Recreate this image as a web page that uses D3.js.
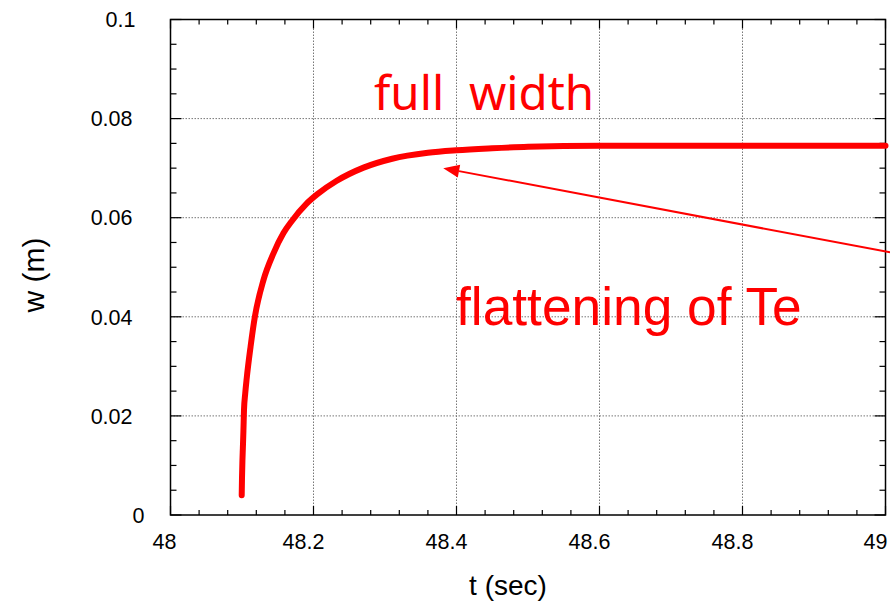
<!DOCTYPE html>
<html>
<head>
<meta charset="utf-8">
<script src="https://cdn.jsdelivr.net/npm/d3@7"></script>
<style>
  body { margin: 0; background: #fff; }
  text { font-family: "Liberation Sans", Arial, sans-serif; }
</style>
</head>
<body>
<div id="root"></div>
<script>
// DATA
const tSec = [48.0996, 48.1000, 48.1006, 48.1012, 48.1020, 48.1028, 48.1045, 48.1066, 48.112, 48.118,
  48.130, 48.144, 48.158, 48.170, 48.190, 48.205, 48.232, 48.270, 48.310, 48.360,
  48.400, 48.450, 48.500, 48.600, 48.700, 48.800, 48.900, 49.000];
const wM = [0.0040, 0.0075, 0.0110, 0.0135, 0.0170, 0.0212, 0.0245, 0.0276, 0.0340, 0.0400,
  0.0474, 0.0528, 0.0569, 0.0594, 0.0628, 0.0647, 0.0674, 0.0701, 0.0719, 0.0731,
  0.0736, 0.0740, 0.0743, 0.0745, 0.0745, 0.0745, 0.0745, 0.0745];
const xTicks = [48, 48.2, 48.4, 48.6, 48.8, 49];
const yTicks = [0, 0.02, 0.04, 0.06, 0.08, 0.1];
const arrowFrom = [49.0063, 0.0530];
const arrowTo = [48.3815, 0.0700];

// DIMENSIONS
const width = 890, height = 603;
const margin = {top: 19.5, right: 4.5, bottom: 88, left: 170.5};
const w = width - margin.left - margin.right;
const h = height - margin.top - margin.bottom;
const red = "#ff0000";

const svg = d3.select("#root").append("svg")
  .attr("width", width).attr("height", height);
const g = svg.append("g")
  .attr("transform", `translate(${margin.left},${margin.top})`);

// SCALES
const x = d3.scaleLinear().domain([48, 49]).range([0, w]);
const y = d3.scaleLinear().domain([0, 0.1]).range([h, 0]);

// GRID
g.append("g").selectAll("line")
  .data(xTicks.slice(1, -1)).join("line")
  .attr("x1", d => x(d)).attr("x2", d => x(d))
  .attr("y1", 0).attr("y2", h)
  .attr("stroke", "#777").attr("stroke-width", 1).attr("stroke-dasharray", "1.5,1.5");
g.append("g").selectAll("line")
  .data(yTicks.slice(1, -1)).join("line")
  .attr("y1", d => y(d)).attr("y2", d => y(d))
  .attr("x1", 0).attr("x2", w)
  .attr("stroke", "#777").attr("stroke-width", 1).attr("stroke-dasharray", "1.5,1.5");

// TICKS (inward, all four sides)
const xMinor = d3.range(0, 26).map(i => 48 + i * 0.04).filter(v => v < 49.001);
const yMinor = d3.range(0, 21).map(i => i * 0.005);
function isMajor(v, step) { return Math.abs(v / step - Math.round(v / step)) < 1e-6; }

const ticks = g.append("g").attr("stroke", "#000").attr("stroke-width", 1.2);
xMinor.forEach(v => {
  const len = isMajor(v - 48, 0.2) ? 9 : 5;
  ticks.append("line").attr("x1", x(v)).attr("x2", x(v)).attr("y1", h).attr("y2", h - len);
  ticks.append("line").attr("x1", x(v)).attr("x2", x(v)).attr("y1", 0).attr("y2", len);
});
yMinor.forEach(v => {
  const len = isMajor(v, 0.02) ? 11 : 6;
  ticks.append("line").attr("y1", y(v)).attr("y2", y(v)).attr("x1", 0).attr("x2", len);
  ticks.append("line").attr("y1", y(v)).attr("y2", y(v)).attr("x1", w).attr("x2", w - len);
});

// FRAME
g.append("rect").attr("width", w).attr("height", h)
  .attr("fill", "none").attr("stroke", "#000").attr("stroke-width", 1.5);

// TICK LABELS
g.append("g").selectAll("text")
  .data(xTicks).join("text")
  .attr("x", d => x(d) + (d === 48 ? -6 : -10)).attr("y", h + 34)
  .attr("text-anchor", "middle").attr("font-size", 21.5)
  .text(d => d3.format("~g")(d));
g.append("g").selectAll("text")
  .data(yTicks).join("text")
  .attr("x", d => d === 0 ? -26 : (d === 0.1 ? -35 : -38))
  .attr("y", d => y(d)).attr("dy", "0.36em")
  .attr("text-anchor", "end").attr("font-size", 21.5)
  .text(d => d3.format("~g")(d));

// AXIS TITLES
svg.append("text")
  .attr("x", 508).attr("y", 595)
  .attr("text-anchor", "middle").attr("font-size", 28)
  .text("t (sec)");
svg.append("text")
  .attr("transform", "translate(44,275) rotate(-90)")
  .attr("text-anchor", "middle").attr("font-size", 30)
  .text("w (m)");

// CURVE
const line = d3.line()
  .x((d, i) => x(tSec[i]))
  .y(d => y(d))
  .curve(d3.curveMonotoneX);
g.append("path")
  .datum(wM)
  .attr("fill", "none").attr("stroke", red)
  .attr("stroke-width", 6).attr("stroke-linecap", "round").attr("stroke-linejoin", "round")
  .attr("d", line);

// ARROW
const ax0 = x(arrowFrom[0]), ay0 = y(arrowFrom[1]);
const ax1 = x(arrowTo[0]), ay1 = y(arrowTo[1]);
const ang = Math.atan2(ay1 - ay0, ax1 - ax0);
const headLen = 16, headW = 6.5;
const bx = ax1 - headLen * Math.cos(ang), by = ay1 - headLen * Math.sin(ang);
g.append("line")
  .attr("x1", ax0).attr("y1", ay0).attr("x2", bx).attr("y2", by)
  .attr("stroke", red).attr("stroke-width", 2);
g.append("polygon")
  .attr("points", [
    [ax1, ay1],
    [bx + headW * Math.sin(ang), by - headW * Math.cos(ang)],
    [bx - headW * Math.sin(ang), by + headW * Math.cos(ang)]
  ].map(p => p.join(",")).join(" "))
  .attr("fill", red);

// ANNOTATIONS
svg.append("text")
  .attr("x", 374).attr("y", 110)
  .attr("font-size", 47.5).attr("fill", red)
  .style("font-family", "'Noto Sans', sans-serif")
  .style("white-space", "pre")
  .text("full  width");
svg.append("text")
  .attr("x", 456).attr("y", 325)
  .attr("font-size", 53.3).attr("fill", red)
  .text("flattening of Te");
</script>
</body>
</html>
